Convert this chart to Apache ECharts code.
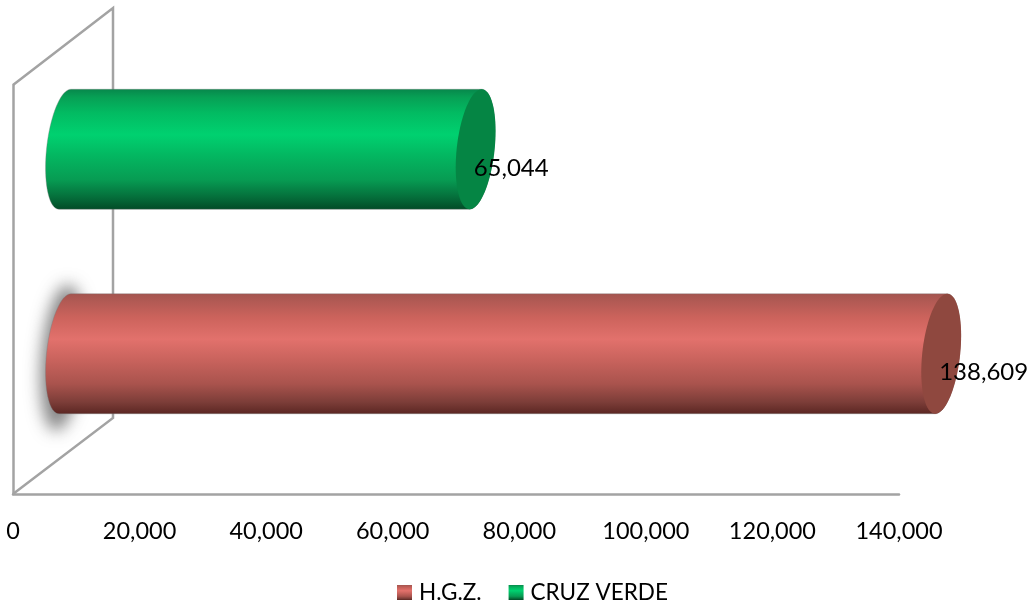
<!DOCTYPE html>
<html><head><meta charset="utf-8">
<style>html,body{margin:0;padding:0;background:#fff}#c{width:1027px;height:604px}</style>
<script src="https://cdn.jsdelivr.net/npm/echarts@6/dist/echarts.min.js"></script>
</head><body><div id="c"></div>
<script>
const categories = ['H.G.Z.', 'CRUZ VERDE'];
const hgzValues = [138609];
const cruzVerdeValues = [65044];
const tickMax = 140000;
const tickStep = 20000;

const FONT = 'Lato';
const DX = 52, DY = -38;          // depth shift of bars from the front plane
const HALF_H = 60, RX = 18.5, SKEW = -6;
const WALL = '#a3a3a3';
const WALL_W = 2.5;
const OFF = 3000;                 // shadow caster sits off-canvas so only its soft shadow shows

function grad(stops) {
  return {type:'linear',x:0,y:0,x2:0,y2:1,colorStops:stops.map(s=>({offset:s[0],color:s[1]}))};
}
const redGrad = grad([[0,'#a3544e'],[0.07,'#b25a54'],[0.2,'#cc635c'],[0.38,'#e2716c'],[0.55,'#c9635d'],[0.75,'#a9534d'],[0.9,'#7c3d38'],[1,'#5a2622']]);
const greenGrad = grad([[0,'#07864b'],[0.07,'#07a055'],[0.2,'#02bb62'],[0.38,'#00d170'],[0.55,'#03b761'],[0.75,'#079c53'],[0.9,'#056d3a'],[1,'#024a26']]);
const capRed = '#8f483f', capGreen = '#058544';

function ell(cx, cy, from, to, n, rx, ry) {
  const pts = [];
  for (let i = 0; i <= n; i++) {
    const t = (from + (to - from) * i / n) * Math.PI / 180;
    pts.push([cx + rx * Math.cos(t) + SKEW * Math.sin(t), cy + ry * Math.sin(t)]);
  }
  return pts;
}

function cylinder(fill, cap, withShadow, labelOf) {
  return function (params, api) {
    const end = api.coord([api.value(0), api.value(1)]);
    const start = api.coord([0, api.value(1)]);
    const cy = end[1] + DY, x0 = start[0] + DX, x1 = end[0] + DX - 1;
    const body = ell(x0, cy, -90, -270, 40, RX, HALF_H).concat(ell(x1, cy, 90, -90, 40, RX, HALF_H));
    const children = [];
    if (withShadow) {
      children.push({type:'polygon',shape:{points:ell(x0 - 3 - OFF, cy + 4, 0, 360, 60, RX + 2, HALF_H + 13)},
        style:{fill:'#555',shadowColor:'rgba(110,110,110,0.85)',shadowBlur:16,shadowOffsetX:OFF,shadowOffsetY:0}});
    }
    children.push({type:'polygon',shape:{points:body},style:{fill:fill,stroke:'rgba(120,120,120,0.35)',lineWidth:1}});
    children.push({type:'polygon',shape:{points:ell(x1, cy, 0, 360, 80, RX + 0.5, HALF_H)},style:{fill:cap}});
    children.push({type:'text',style:{x:x1 - 2,y:cy + 19,text:labelOf(api.value(0)),fill:'#000',
      font:'24px '+FONT,align:'left',verticalAlign:'middle'}});
    return {type:'group',children};
  };
}
const fmt = v => Number(v).toLocaleString('en-US');

const chart = echarts.init(document.getElementById('c'), null, {renderer:'canvas'});
chart.setOption({
  animation:false,
  backgroundColor:'#fff',
  grid:{left:13,right:128,top:85,bottom:110,containLabel:false},
  xAxis:{type:'value',min:0,max:tickMax,interval:tickStep,
    splitLine:{show:false},axisTick:{show:false},
    axisLine:{show:true,lineStyle:{color:WALL,width:WALL_W}},
    axisLabel:{color:'#000',fontFamily:FONT,fontSize:23.5,margin:25}},
  yAxis:{type:'category',data:categories,axisTick:{show:false},axisLabel:{show:false},
    axisLine:{show:true,lineStyle:{color:WALL,width:WALL_W}}},
  legend:{left:397,top:581,padding:0,itemWidth:15,itemHeight:15,itemGap:27,icon:'rect',
    textStyle:{color:'#000',fontFamily:FONT,fontSize:22.5,padding:[0,0,0,2]},
    data:['H.G.Z.','CRUZ VERDE']},
  series:[
    {type:'custom',name:'_walls',silent:true,z:1,data:[[0]],encode:{x:0},legendHoverLink:false,
      renderItem:function(params,api){
        const a=api.coord([0,categories[0]]),size=api.size([0,1])[1];
        const bottom=a[1]+size/2, top=bottom-2*size, x=a[0];
        return {type:'polyline',shape:{points:[[x,top],[x+100,top-77],[x+100,bottom-76],[x,bottom]]},
          style:{fill:'none',stroke:WALL,lineWidth:WALL_W}};
      }},
    {type:'custom',name:'H.G.Z.',z:3,itemStyle:{color:redGrad},
      data:hgzValues.map(v=>[v,categories[0]]),encode:{x:0,y:1},
      renderItem:cylinder(redGrad,capRed,true,fmt)},
    {type:'custom',name:'CRUZ VERDE',z:3,itemStyle:{color:greenGrad},
      data:cruzVerdeValues.map(v=>[v,categories[1]]),encode:{x:0,y:1},
      renderItem:cylinder(greenGrad,capGreen,false,fmt)}
  ]
});
</script></body></html>
